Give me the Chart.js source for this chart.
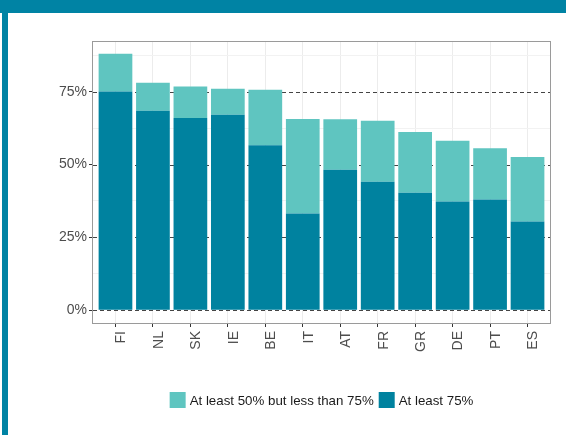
<!DOCTYPE html>
<html>
<head>
<meta charset="utf-8">
<script src="https://cdn.jsdelivr.net/npm/chart.js@4.4.1/dist/chart.umd.min.js"></script>
<style>
  html, body { margin: 0; padding: 0; background: #fff; }
  #wrap { width: 566px; height: 435px; position: relative; }
</style>
</head>
<body>
<div id="wrap"><canvas id="c"></canvas></div>
<script>
// share of respondents per country
const categories = ["FI", "NL", "SK", "IE", "BE", "IT", "AT", "FR", "GR", "DE", "PT", "ES"]
const atLeast75 = [75.1, 68.5, 66.0, 67.1, 56.6, 33.2, 48.2, 44.1, 40.3, 37.3, 38.0, 30.4]
const from50to75 = [12.9, 9.6, 10.8, 8.9, 19.1, 32.4, 17.3, 20.9, 20.9, 20.9, 17.6, 22.2]
const yTicks = [0, 12.5, 25, 37.5, 50, 62.5, 75, 87.5]
const yMajor = [0, 25, 50, 75]

const DARK = "#00829f"
const LIGHT = "#5fc5c0"
const FRAME = "#0083a4"
const FONT = "'Liberation Sans', Arial, sans-serif"

// teal page frame + white background
const framePlugin = {
  id: "frame",
  beforeDraw(chart) {
    const ctx = chart.ctx
    ctx.save()
    ctx.fillStyle = "#fff"
    ctx.fillRect(0, 0, chart.width, chart.height)
    ctx.fillStyle = FRAME
    ctx.fillRect(0, 0, chart.width, 13)
    ctx.fillRect(2, 13, 6, chart.height - 13)
    ctx.restore()
  }
}

// dashed major lines under the bars, panel border over them
const panelPlugin = {
  id: "panel",
  beforeDatasetsDraw(chart) {
    const { ctx, chartArea: a, scales: { y } } = chart
    ctx.save()
    ctx.strokeStyle = "#444"
    ctx.lineWidth = 1
    ctx.setLineDash([4, 3])
    yMajor.forEach(v => {
      const py = Math.round(y.getPixelForValue(v)) + 0.5
      ctx.beginPath()
      ctx.moveTo(a.left, py)
      ctx.lineTo(a.right, py)
      ctx.stroke()
    })
    ctx.restore()
  },
  afterDatasetsDraw(chart) {
    const { ctx, chartArea: a } = chart
    ctx.save()
    ctx.strokeStyle = "#9a9a9a"
    ctx.lineWidth = 1
    ctx.strokeRect(Math.round(a.left) - 0.5, Math.round(a.top) + 0.5,
      Math.round(a.right - a.left) + 1, Math.round(a.bottom - a.top))
    ctx.restore()
  },
  afterDraw(chart) {
    // legend centred under the panel, like ggplot
    const { ctx, chartArea: a } = chart
    const items = [chart.data.datasets[1], chart.data.datasets[0]]
    const box = 16, gapText = 4, gapItem = 5, cy = 400
    ctx.save()
    ctx.font = "13.3px " + FONT
    const widths = items.map(d => box + gapText + ctx.measureText(d.label).width)
    const total = widths.reduce((s, w) => s + w, 0) + gapItem * (items.length - 1)
    let x = (a.left + a.right) / 2 - total / 2
    ctx.textBaseline = "middle"
    items.forEach((d, i) => {
      ctx.fillStyle = d.backgroundColor
      ctx.fillRect(x, cy - box / 2, box, box)
      ctx.fillStyle = "#1a1a1a"
      ctx.fillText(d.label, x + box + gapText, cy + 1)
      x += widths[i] + gapItem
    })
    ctx.restore()
  }
}

new Chart(document.getElementById("c"), {
  type: "bar",
  data: {
    datasets: [
      {
        label: "At least 75%",
        data: atLeast75.map((v, i) => ({ x: i, y: v })),
        backgroundColor: DARK,
        borderWidth: 0
      },
      {
        label: "At least 50% but less than 75%",
        data: from50to75.map((v, i) => ({ x: i, y: v })),
        backgroundColor: LIGHT,
        borderWidth: 0
      }
    ]
  },
  options: {
    responsive: true,
    maintainAspectRatio: false,
    animation: false,
    categoryPercentage: 0.9,
    barPercentage: 1,
    layout: { padding: { left: 0, right: 16, top: 41, bottom: 0 } },
    plugins: {
      legend: { display: false },
      tooltip: { enabled: false }
    },
    scales: {
      x: {
        type: "linear",
        stacked: true,
        offset: false,
        min: -0.6,
        max: categories.length - 0.4,
        afterBuildTicks: (scale) => {
          scale.ticks = categories.map((c, i) => ({ value: i }))
        },
        afterFit: (scale) => { scale.height = 112 },
        grid: {
          offset: false,
          color: "#ececec",
          tickColor: "#333",
          tickLength: 4
        },
        border: { display: false },
        ticks: {
          autoSkip: false,
          minRotation: 90,
          maxRotation: 90,
          padding: 4,
          labelOffset: 6,
          color: "#4d4d4d",
          font: { family: FONT, size: 14 },
          callback: (v) => categories[v] || ""
        }
      },
      y: {
        stacked: true,
        min: -4.4,
        max: 92.4,
        afterBuildTicks: (scale) => {
          scale.ticks = yTicks.map(v => ({ value: v }))
        },
        afterFit: (scale) => { scale.width = 93 },
        grid: {
          color: (c) => (c.tick && c.tick.value % 25 === 0 ? "transparent" : "#f2f2f2"),
          tickColor: (c) => (c.tick && c.tick.value % 25 === 0 ? "#333" : "transparent"),
          tickLength: 4
        },
        border: { display: false },
        ticks: {
          autoSkip: false,
          padding: 2,
          color: "#4d4d4d",
          font: { family: FONT, size: 14 },
          callback: (v) => (v % 25 === 0 ? v + "%" : "")
        }
      }
    }
  },
  plugins: [framePlugin, panelPlugin]
})
</script>
</body>
</html>
